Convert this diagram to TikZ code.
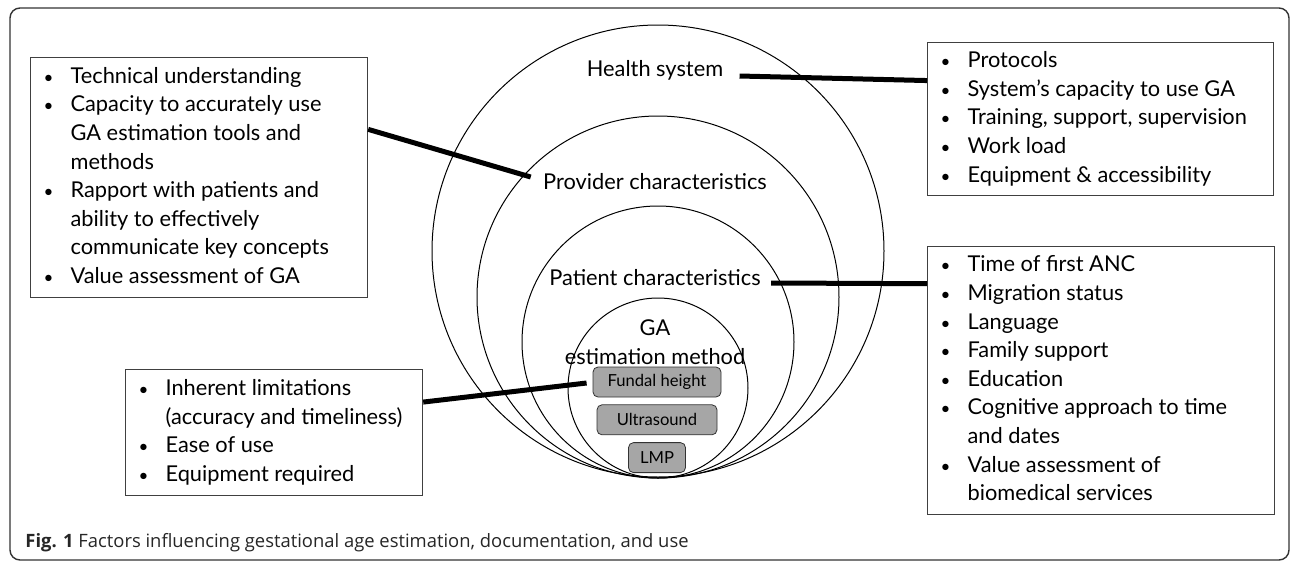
\documentclass[tikz,border=0pt]{standalone}
\usepackage{fontspec}
\setmainfont{Lato}
\newfontfamily\capfont{Open Sans}
\usetikzlibrary{positioning, calc}

% small bullet, and a bullet list set as a two-column table, #1 = width of the text column
\newcommand{\bdot}{{\fontsize{8.5}{8.5}\selectfont\textbullet}}
\newcommand{\bitems}[2]{\begin{tabular}{@{\hspace{6.5pt}}p{13.5pt}@{}p{#1}@{}}#2\end{tabular}}

\tikzset{
  listbox/.style={draw=black!75, line width=0.6pt, inner sep=0pt, anchor=north west,
    font=\fontsize{10.9}{14.3}\selectfont},
  lbl/.style={font=\fontsize{10.9}{14.3}\selectfont, inner sep=1pt, align=center},
  method/.style={draw=black!80, fill=black!35, rounded corners=2.5pt, minimum height=15pt,
    inner sep=0pt, font=\fontsize{8.3}{9}\selectfont},
  conn/.style={line width=2.5pt},
  ring/.style={line width=0.5pt}
}

\begin{document}
\begin{tikzpicture}[x=0.5pt, y=-0.5pt]
                \useasboundingbox (0,0) rectangle (1292,563);
                \draw[black!80, line width=0.7pt, rounded corners=5pt] (10,8) rectangle (1289,560);
                % nested circles, all touching at the bottom
                \draw[ring] (658,251) circle [radius=226];
                \draw[ring] (658,297) circle [radius=181];
                \draw[ring] (658,342) circle [radius=136];
                \draw[ring] (658,388) circle [radius=90];
                % circle labels
                \node[lbl] (hsys) at (655,70) {Health system};
                \node[lbl] (prov) at (655,182) {Provider characteristics};
                \node[lbl] (pat) at (655,278) {Patient characteristics};
                \node[lbl] (ga) at (655,342) {GA\\estimation method};
                % estimation methods
                \node[method, minimum width=64pt] (fundal) at (657,382) {Fundal height};
                \node[method, minimum width=60pt, below=3.5pt of fundal] (usound) {Ultrasound};
                \node[method, minimum width=28.5pt, below=3.5pt of usound] (lmp) {LMP};
                % factor boxes
                \node[listbox, minimum width=168.5pt, minimum height=120pt] (provbox) at (30,57) {\bitems{148.5pt}{
                  \bdot & Technical understanding\\
                  \bdot & Capacity to accurately use\\
                  & GA estimation tools and\\
                  & methods\\
                  \bdot & Rapport with patients and\\
                  & ability to effectively\\
                  & communicate key concepts\\
                  \bdot & Value assessment of GA}};
                \node[listbox, minimum width=173pt, minimum height=76.5pt] (sysbox) at (927,42) {\bitems{153pt}{
                  \bdot & Protocols\\
                  \bdot & System’s capacity to use GA\\
                  \bdot & Training, support, supervision\\
                  \bdot & Work load\\
                  \bdot & Equipment \& accessibility}};
                \node[listbox, minimum width=173.5pt, minimum height=134pt] (patbox) at (927,246) {\bitems{153.5pt}{
                  \bdot & Time of first ANC\\
                  \bdot & Migration status\\
                  \bdot & Language\\
                  \bdot & Family support\\
                  \bdot & Education\\
                  \bdot & Cognitive approach to time\\
                  & and dates\\
                  \bdot & Value assessment of\\
                  & biomedical services}};
                \node[listbox, minimum width=148.5pt, minimum height=63pt] (gabox) at (125,369) {\bitems{128.5pt}{
                  \bdot & Inherent limitations\\
                  & (accuracy and timeliness)\\
                  \bdot & Ease of use\\
                  \bdot & Equipment required}};
                % connectors
                \coordinate (hsysend) at ($(hsys.east)+(14,6)$);
                \coordinate (provend) at ($(prov.west)+(-10,-5)$);
                \coordinate (patend) at ($(pat.east)+(8,5)$);
                \coordinate (gaend) at ($(fundal.west)+(-6,1)$);
                \draw[conn] (hsysend) -- ($(sysbox.north west)!0.25!(sysbox.south west)$);
                \draw[conn] (provend) -- ($(provbox.north east)!0.30!(provbox.south east)$);
                \draw[conn] (patend) -- ($(patbox.north west)!0.14!(patbox.south west)$);
                \draw[conn] (gaend) -- ($(gabox.north east)!0.26!(gabox.south east)$);
                % caption
                \node[anchor=base west, inner sep=0pt, text=black!85, font=\capfont\fontsize{9.2}{11}\selectfont] (cap) at (25,547)
                  {\textbf{Fig. 1} Factors influencing gestational age estimation, documentation, and use};
            \end{tikzpicture}
\end{document}
